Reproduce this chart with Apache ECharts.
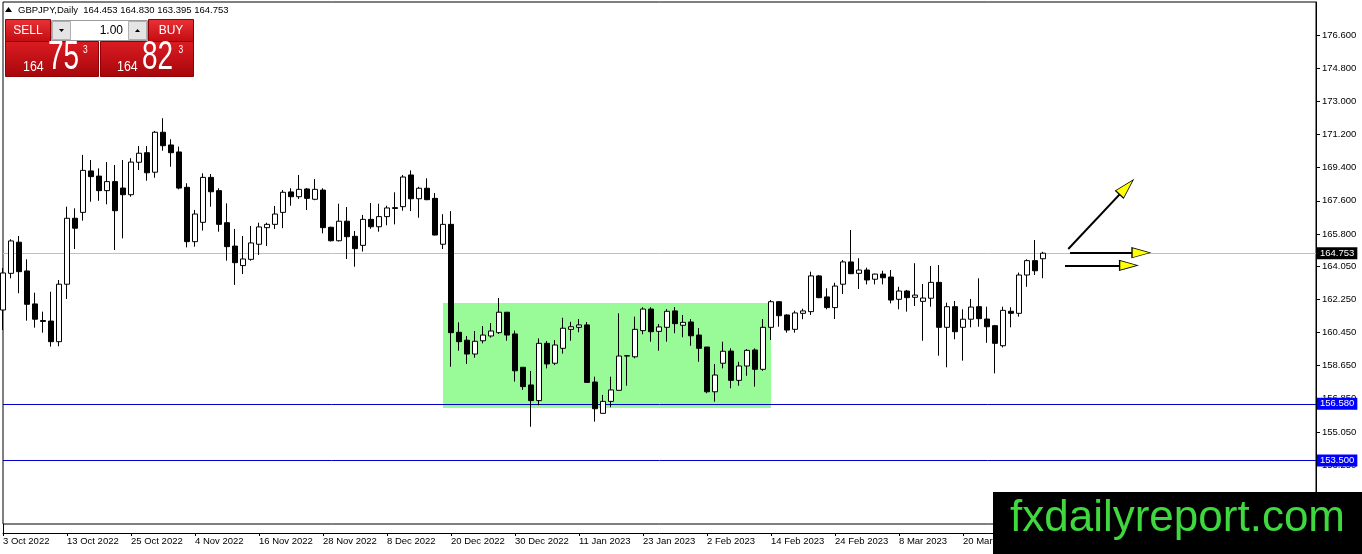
<!DOCTYPE html>
<html><head><meta charset="utf-8">
<script src="https://cdn.jsdelivr.net/npm/echarts@6/dist/echarts.min.js"></script>
<style>html,body{margin:0;padding:0;background:#fff}#c{width:1362px;height:554px}</style>
</head><body><div id="c"></div>
<script>
// ---- data (GBPJPY daily, one bar per weekday from 3 Oct 2022) ----
const tickLabels = ['3 Oct 2022','13 Oct 2022','25 Oct 2022','4 Nov 2022','16 Nov 2022','28 Nov 2022','8 Dec 2022','20 Dec 2022','30 Dec 2022','11 Jan 2023','23 Jan 2023','2 Feb 2023','14 Feb 2023','24 Feb 2023','8 Mar 2023','20 Mar 2023','30 Mar 2023'];
const priceTicks = [176.6,174.8,173.0,171.2,169.4,167.6,165.8,164.05,162.25,160.45,158.65,156.85,155.05,153.25];
const opens = [161.67,163.66,165.35,163.79,162.00,161.10,161.07,159.95,163.07,166.65,
166.97,169.22,168.94,168.15,168.64,168.29,167.93,169.69,170.21,169.15,
171.32,170.63,170.25,168.33,165.38,166.43,168.87,168.15,166.41,165.14,
164.08,164.42,165.24,166.14,166.32,166.97,168.08,167.82,168.24,167.68,
168.18,166.16,165.43,166.49,165.67,165.18,166.59,166.19,166.74,167.18,
167.28,169.00,167.71,168.28,167.73,165.24,166.32,160.46,160.03,159.28,
160.00,160.26,160.44,161.55,160.37,158.56,157.60,156.75,159.86,158.78,
159.59,160.62,160.73,160.86,157.76,156.06,156.71,157.31,159.17,159.13,
160.55,161.72,160.51,160.73,161.62,160.84,161.02,160.31,159.66,157.23,
158.78,159.44,157.85,158.63,159.50,158.45,160.73,162.12,161.40,160.62,
161.49,161.58,163.52,162.38,161.80,163.07,164.28,163.66,163.84,163.34,
163.62,163.46,162.25,162.70,162.36,162.14,162.31,163.17,160.73,161.85,
160.73,161.17,161.85,161.18,160.82,159.73,161.60,161.49,163.57,164.35,
164.453];
const highs = [163.95,165.51,165.69,164.42,162.61,161.58,162.66,163.30,167.28,167.19,
170.09,169.81,169.36,169.70,169.54,169.81,169.91,170.57,170.57,171.39,
172.08,170.94,170.54,168.55,167.10,169.09,169.05,168.28,167.46,166.07,
165.69,166.23,166.41,166.41,167.32,168.18,168.28,169.00,168.29,168.78,
168.28,166.19,167.44,167.26,165.96,166.83,167.48,167.44,167.33,168.06,
169.00,169.25,168.36,168.82,168.02,166.87,167.04,161.00,160.26,160.53,
160.80,160.96,162.32,161.56,160.55,158.57,158.36,160.13,159.99,160.04,
161.25,161.03,161.18,161.02,158.05,157.06,158.05,161.49,159.23,161.31,
161.82,161.82,160.91,161.72,161.83,161.40,161.18,160.69,159.66,158.74,
159.95,159.59,158.86,159.55,159.59,161.18,162.21,162.16,161.44,161.63,
161.74,163.75,163.57,162.85,163.15,164.38,166.01,164.48,163.97,163.64,
163.80,163.84,162.93,162.76,164.21,163.08,164.06,164.11,162.07,162.16,
161.71,162.27,163.39,161.85,160.86,161.85,161.82,163.70,164.42,165.47,
164.830];
const lows = [160.58,163.39,162.58,161.09,160.71,160.44,159.68,159.70,162.27,164.98,
166.52,167.55,167.60,167.41,164.93,165.56,167.82,169.27,168.69,168.85,
170.32,169.45,168.22,165.07,165.11,165.98,167.28,165.92,164.35,163.03,
163.62,164.35,164.66,165.14,166.07,166.11,167.33,167.70,167.10,167.63,
165.83,165.39,165.39,164.44,164.02,164.84,166.08,165.92,166.27,166.32,
167.06,167.04,166.68,167.63,165.72,164.98,158.59,159.46,158.74,159.08,
159.86,160.17,160.37,160.00,157.78,157.33,155.33,156.50,158.50,158.68,
159.30,160.00,160.46,157.71,155.61,156.05,156.39,157.30,157.56,159.05,
160.35,159.95,159.46,159.95,160.41,160.19,159.73,158.86,157.15,156.69,
158.50,157.42,157.56,158.10,157.51,158.37,160.04,160.76,160.44,160.44,
161.17,161.40,162.31,161.71,161.18,162.54,163.62,162.81,163.06,163.06,
163.06,162.03,161.71,161.58,161.89,160.00,161.85,159.19,158.56,160.08,
158.92,160.73,160.76,159.89,158.23,159.64,160.73,161.31,162.93,163.57,
163.395];
const closes = [163.68,165.42,163.75,161.98,161.17,161.05,159.95,163.07,166.65,166.11,
169.25,168.91,168.15,168.64,167.06,167.93,169.70,170.18,169.12,171.32,
170.59,170.21,168.29,165.38,166.88,168.87,168.09,166.32,165.11,164.24,
164.44,165.31,166.18,166.32,166.88,168.06,167.82,168.22,167.73,168.22,
166.14,165.43,166.49,165.65,165.00,166.59,166.19,166.74,167.21,167.23,
168.89,167.71,168.28,167.66,165.74,166.32,160.44,159.95,159.28,159.97,
160.31,160.53,161.55,160.31,158.37,157.51,156.75,159.86,158.74,159.77,
160.68,160.76,160.86,157.74,156.31,156.71,157.33,159.17,159.19,160.62,
161.72,160.49,160.75,161.60,160.93,161.00,160.27,159.59,157.23,158.14,
159.43,157.85,158.63,159.48,158.45,160.73,162.12,161.36,160.58,161.51,
161.62,163.52,162.34,161.80,162.97,164.28,163.64,163.84,163.30,163.62,
163.42,162.21,162.70,162.34,162.48,162.32,163.17,160.73,161.85,160.49,
161.17,161.83,161.20,160.76,159.86,161.65,161.49,163.57,164.35,163.80,
164.753];
const lastPrice = 164.753;
const supportLevels = [156.58, 153.5];
const zoneBars = [55, 96];
const zonePrices = [162.05, 156.35];
// arrow annotations: [startBar, startPrice, headBar, headPrice, headRotation]
const arrowUp = [133.16, 164.98, 140.43, 168.34, -43.3];
const arrowMid = [133.38, 164.78, 142.25, 164.78, -90];
const arrowLow = [132.75, 164.09, 140.70, 164.09, -90];

const candles = opens.map((o, i) => [i, o, closes[i], lows[i], highs[i]]);
const arrows = [arrowUp, arrowMid, arrowLow];

const FONT = 'Liberation Sans';
const chart = echarts.init(document.getElementById('c'), null, {renderer: 'canvas'});

const red = {type:'linear',x:0,y:0,x2:0,y2:1,colorStops:[{offset:0,color:'#ea3236'},{offset:1,color:'#c10c12'}]};
const redLow = {type:'linear',x:0,y:0,x2:0,y2:1,colorStops:[{offset:0,color:'#dc1c22'},{offset:1,color:'#a6060b'}]};
const Z = 100;
function txt(x, y, text, size, opts) {
  return Object.assign({type:'text', x:x, y:y, z:Z+5, style:Object.assign({text:text, font: size + 'px "' + FONT + '"', fill:'#fff', align:'left', verticalAlign:'middle'}, (opts && opts.style) || {})}, opts && opts.el || {});
}
function levelLine(v, lineColor, boxColor) {
  return {yAxis: v, lineStyle: {color: lineColor, width: 1, type: 'solid'},
    label: {backgroundColor: boxColor, formatter: () => v.toFixed(3)}};
}

chart.setOption({
  animation: false,
  backgroundColor: '#fff',
  grid: {left: 3, right: 46, top: 2, bottom: 30, show: true, borderColor: '#000', borderWidth: 1, backgroundColor: 'transparent'},
  xAxis: {
    type: 'value', min: 0, max: 164.125, interval: 8, offset: 9,
    axisLine: {show: true, onZero: false, lineStyle: {color: '#000', width: 1}},
    axisTick: {show: true, length: 3, lineStyle: {color: '#000'}},
    axisLabel: {show: true, align: 'left', margin: 3, fontSize: 9.5, fontFamily: FONT, color: '#000', showMaxLabel: false, showMinLabel: true,
      formatter: v => (v % 8 === 0 && tickLabels[v / 8]) || ''},
    splitLine: {show: false}
  },
  yAxis: {
    type: 'value', position: 'right', min: 150.052, max: 178.391, scale: true,
    axisLine: {show: true, onZero: false, lineStyle: {color: '#000', width: 1}},
    axisTick: {show: true, length: 4, lineStyle: {color: '#000'}, customValues: priceTicks},
    axisLabel: {show: true, margin: 6, fontSize: 9.5, fontFamily: FONT, color: '#000', customValues: priceTicks, formatter: v => v.toFixed(3)},
    splitLine: {show: false}
  },
  series: [
    {
      name: 'levels', type: 'line', data: [], silent: true, z: 1,
      markArea: {
        silent: true, z: 1,
        itemStyle: {color: '#98fb98', opacity: 1},
        data: [[{xAxis: zoneBars[0], yAxis: zonePrices[0]}, {xAxis: zoneBars[1], yAxis: zonePrices[1]}]]
      },
      markLine: {
        silent: true, z: 1.5, symbol: ['none', 'none'], animation: false,
        label: {show: true, position: 'end', distance: 1, color: '#fff', fontSize: 9.5, fontFamily: FONT, padding: [1, 3, 1, 3]},
        emphasis: {disabled: true},
        data: [
          levelLine(lastPrice, '#c0c0c0', '#000'),
          levelLine(supportLevels[0], '#0000cd', '#0000ff'),
          levelLine(supportLevels[1], '#0000cd', '#0000ff')
        ]
      }
    },
    {
      name: 'GBPJPY', type: 'candlestick', z: 3, clip: false, barWidth: 5,
      encode: {x: 0, y: [1, 2, 3, 4]},
      data: candles,
      itemStyle: {color: '#ffffff', color0: '#000000', borderColor: '#000000', borderColor0: '#000000', borderColorDoji: '#000000', borderWidth: 1},
      emphasis: {disabled: true}
    },
    {
      name: 'arrows', type: 'line', data: [], silent: true, z: 5,
      markLine: {
        silent: true, z: 5, symbol: ['none', 'none'], animation: false,
        label: {show: false}, emphasis: {disabled: true},
        lineStyle: {color: '#000', width: 2, type: 'solid'},
        data: arrows.map(a => [{coord: [a[0], a[1]]}, {coord: [a[2], a[3]]}])
      },
      markPoint: {
        silent: true, z: 6, animation: false,
        label: {show: false},
        itemStyle: {color: '#ffff00', borderColor: '#000', borderWidth: 1},
        data: arrows.map((a, k) => ({coord: [a[2], a[3]], symbol: 'triangle', symbolSize: k === 0 ? [11, 20] : [10, 18], symbolRotate: a[4]}))
      }
    }
  ],
  graphic: [
    // frame extensions of the MT4 window
    {type: 'line', z: Z, shape: {x1: 3.5, y1: 524, x2: 3.5, y2: 533}, style: {stroke: '#000', lineWidth: 1}},
    {type: 'line', z: Z, shape: {x1: 1316.5, y1: 524, x2: 1316.5, y2: 554}, style: {stroke: '#000', lineWidth: 1}},
    // header
    {type: 'polygon', z: Z, shape: {points: [[5, 12], [8.5, 7], [12, 12]]}, style: {fill: '#000'}},
    txt(18, 10, 'GBPJPY,Daily  164.453 164.830 163.395 164.753', 9.5, {style: {fill: '#000'}}),
    // one-click trading panel
    {type: 'rect', z: Z, shape: {x: 5.5, y: 19.5, width: 45, height: 22}, style: {fill: red, stroke: '#8e0005', lineWidth: 1}},
    {type: 'rect', z: Z, shape: {x: 148.5, y: 19.5, width: 45, height: 22}, style: {fill: red, stroke: '#8e0005', lineWidth: 1}},
    {type: 'rect', z: Z, shape: {x: 51.5, y: 20.5, width: 96, height: 20}, style: {fill: '#fff', stroke: '#9a9a9a', lineWidth: 1}},
    {type: 'rect', z: Z + 1, shape: {x: 52.5, y: 21.5, width: 18, height: 18}, style: {fill: '#e4e4e4', stroke: '#b0b0b0', lineWidth: 1}},
    {type: 'rect', z: Z + 1, shape: {x: 128.5, y: 21.5, width: 18, height: 18}, style: {fill: '#e4e4e4', stroke: '#b0b0b0', lineWidth: 1}},
    {type: 'polygon', z: Z + 2, shape: {points: [[59, 29], [64, 29], [61.5, 32]]}, style: {fill: '#000'}},
    {type: 'polygon', z: Z + 2, shape: {points: [[135, 32], [140, 32], [137.5, 29]]}, style: {fill: '#000'}},
    txt(123, 31, '1.00', 12, {style: {fill: '#000', align: 'right'}}),
    txt(28, 31, 'SELL', 12, {style: {align: 'center'}}),
    txt(171, 31, 'BUY', 12, {style: {align: 'center'}}),
    {type: 'rect', z: Z, shape: {x: 5.5, y: 41.5, width: 93, height: 35}, style: {fill: redLow, stroke: '#8e0005', lineWidth: 1}},
    {type: 'rect', z: Z, shape: {x: 100.5, y: 41.5, width: 93, height: 35}, style: {fill: redLow, stroke: '#8e0005', lineWidth: 1}},
    txt(23, 66.5, '164', 15.5, {el: {scaleX: 0.8}}),
    txt(48, 58, '75', 40.5, {el: {scaleX: 0.69}}),
    txt(83, 50.5, '3', 10.5, {el: {scaleX: 0.8}}),
    txt(117, 66.5, '164', 15.5, {el: {scaleX: 0.8}}),
    txt(142, 58, '82', 40.5, {el: {scaleX: 0.69}}),
    txt(178.5, 50.5, '3', 10.5, {el: {scaleX: 0.8}}),
    // watermark
    {type: 'rect', z: Z + 10, shape: {x: 993, y: 492, width: 369, height: 62}, style: {fill: '#000'}},
    {type: 'text', z: Z + 11, x: 1010, y: 519, style: {text: 'fxdailyreport.com', font: '44px "' + FONT + '"', fill: '#3fd83f', align: 'left', verticalAlign: 'middle'}}
  ]
});
</script>
</body></html>
